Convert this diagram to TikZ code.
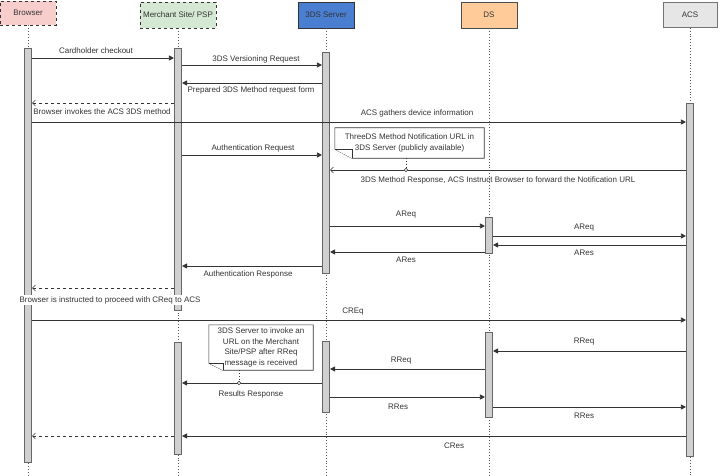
\documentclass[tikz,border=0pt]{standalone}
\usepackage{fontspec}
\setmainfont{Liberation Sans}
\usetikzlibrary{arrows.meta}
\definecolor{txt}{HTML}{333333}
\definecolor{ln}{HTML}{333333}
\definecolor{brw}{HTML}{F8CECC}
\definecolor{mer}{HTML}{D5E8D4}
\definecolor{tds}{HTML}{4A7ED0}
\definecolor{dsf}{HTML}{FFCC99}
\definecolor{acsf}{HTML}{E6E6E6}
\definecolor{actf}{HTML}{D0D0D0}
\begin{document}
\begin{tikzpicture}[x=1pt,y=-1pt,
  font=\fontsize{8}{10}\selectfont,
  hdr/.style={draw=ln, line width=0.6pt, inner sep=0pt, minimum height=25pt, text=txt},
  act/.style={draw=black!60, fill=actf, line width=0.6pt, minimum width=7.5pt, inner sep=0pt},
  life/.style={draw=black!65, line width=0.9pt, dotted},
  msg/.style={draw=ln, line width=0.6pt, -{Triangle[length=5pt,width=5pt]}},
  ret/.style={draw=ln, line width=0.6pt, dashed, -{Straight Barb[length=3pt,width=6pt]}},
  opn/.style={draw=ln, line width=0.6pt, -{Straight Barb[length=3pt,width=6pt]}},
  lbl/.style={text=txt, inner sep=0pt},
  notest/.style={draw=ln, line width=0.6pt, fill=white},
  link/.style={draw=ln, line width=0.8pt, dotted}]
\useasboundingbox (0,0) rectangle (720,476);

% headers
\node[hdr, dashed, fill=brw, minimum width=56pt, minimum height=24pt] (hB) at (28,13) {Browser};
\node[hdr, dashed, fill=mer, minimum width=76pt, minimum height=26pt] (hM) at (178,15) {Merchant Site/ PSP};
\node[hdr, fill=tds, minimum width=56pt, minimum height=26pt, line width=0.9pt] (hS) at (326,15) {3DS Server};
\node[hdr, fill=dsf, draw=black!70, minimum width=56pt, minimum height=26pt] (hD) at (489,15) {DS};
\node[hdr, fill=acsf, draw=black!55, minimum width=54pt, minimum height=25pt] (hA) at (690,15) {ACS};

% lifelines
\draw[life] (hB.south) -- (hB.south |- 0,476);
\draw[life] (hM.south) -- (hM.south |- 0,476);
\draw[life] (hS.south) -- (hS.south |- 0,476);
\draw[life] (hD.south) -- (hD.south |- 0,476);
\draw[life] (hA.south) -- (hA.south |- 0,476);

% activations
\node[act, minimum height=414pt] (aB) at (28,255) {};
\node[act, minimum height=262pt] (aM1) at (178,179) {};
\node[act, minimum height=112pt] (aM2) at (178,398) {};
\node[act, minimum height=221pt] (aS1) at (326,162.5) {};
\node[act, minimum height=71pt] (aS2) at (326,376.5) {};
\node[act, minimum height=36pt] (aD1) at (489,235) {};
\node[act, minimum height=85pt] (aD2) at (489,374.5) {};
\node[act, minimum height=353pt] (aA) at (690,279.5) {};

% messages
\draw[msg] (aB.east |- 0,58) -- (aM1.west |- 0,58);
\node[lbl] (l1) at (96,51) {Cardholder checkout};
\draw[msg] (aM1.east |- 0,65) -- (aS1.west |- 0,65);
\node[lbl] (l2) at (256,59) {3DS Versioning Request};
\draw[msg] (aS1.west |- 0,83) -- (aM1.east |- 0,83);
\node[lbl] (l3) at (251,90) {Prepared 3DS Method request form};
\draw[ret] (aM1.west |- 0,103) -- (aB.east |- 0,103);
\node[lbl] (l4) at (102,112) {Browser invokes the ACS 3DS method};
\draw[msg] (aB.east |- 0,122) -- (aA.west |- 0,122);
\node[lbl] (l5) at (417,113) {ACS gathers device information};
\draw[msg] (aM1.east |- 0,155) -- (aS1.west |- 0,155);
\node[lbl] (l6) at (253,148) {Authentication Request};
\draw[opn] (aA.west |- 0,170) -- (aS1.east |- 0,170);
\node[lbl] (l7) at (498,180) {3DS Method Response, ACS Instruct Browser to forward the Notification URL};
\draw[msg] (aS1.east |- 0,226) -- (aD1.west |- 0,226);
\node[lbl] (l8) at (406,215) {AReq};
\draw[msg] (aD1.east |- 0,236) -- (aA.west |- 0,236);
\node[lbl] (l9) at (584,228) {AReq};
\draw[msg] (aA.west |- 0,245) -- (aD1.east |- 0,245);
\node[lbl] (l10) at (584,253) {ARes};
\draw[msg] (aD1.west |- 0,252) -- (aS1.east |- 0,252);
\node[lbl] (l11) at (406,260) {ARes};
\draw[msg] (aS1.west |- 0,266) -- (aM1.east |- 0,266);
\node[lbl] (l12) at (248,274) {Authentication Response};
\draw[ret] (aM1.west |- 0,288) -- (aB.east |- 0,288);
\node[lbl, fill=white, inner sep=1pt] (l13) at (110,300) {Browser is instructed to proceed with CReq to ACS};
\draw[msg] (aB.east |- 0,320) -- (aA.west |- 0,320);
\node[lbl] (l14) at (353,312) {CREq};
\draw[msg] (aA.west |- 0,351) -- (aD2.east |- 0,351);
\node[lbl] (l15) at (584,342) {RReq};
\draw[msg] (aD2.west |- 0,369) -- (aS2.east |- 0,369);
\node[lbl] (l16) at (401,361) {RReq};
\coordinate (c2) at (239,383);
\draw[msg] (aS2.west |- 0,383) -- (aM2.east |- 0,383);
\node[lbl] (l17) at (251,394) {Results Response};
\draw[msg] (aS2.east |- 0,397) -- (aD2.west |- 0,397);
\node[lbl] (l18) at (398,407) {RRes};
\draw[msg] (aD2.east |- 0,407) -- (aA.west |- 0,407);
\node[lbl] (l19) at (584,416) {RRes};
\draw[msg] (aA.west |- 0,436) -- (aM2.east |- 0,436);
\node[lbl] (l20) at (454,446) {CRes};
\draw[ret] (aM2.west |- 0,436) -- (aB.east |- 0,436);

% note 1
\coordinate (c1) at (406,170);
\node[lbl, align=center, minimum width=149pt, minimum height=30pt] (n1) at (409.5,143) {};
\draw[notest] (n1.north west) -- (n1.north east) -- (n1.south east) -- ([xshift=17pt]n1.south west) -- ([yshift=9pt]n1.south west) -- cycle;
\draw[notest] ([yshift=9pt]n1.south west) -- ([xshift=17pt,yshift=9pt]n1.south west) -- ([xshift=17pt]n1.south west);
\node[lbl, align=center, font=\fontsize{8}{11}\selectfont] (n1t) at (n1) {ThreeDS Method Notification URL in\\3DS Server (publicly available)};
\draw[link] (n1.south -| c1) -- (c1);
\draw[ln, fill=white, line width=0.6pt] (c1) circle (1.8pt);

% note 2
\node[lbl, minimum width=104pt, minimum height=45pt] (n2) at (261,347.5) {};
\draw[notest] (n2.north west) -- (n2.north east) -- (n2.south east) -- ([xshift=14pt]n2.south west) -- ([yshift=7pt]n2.south west) -- cycle;
\draw[notest] ([yshift=7pt]n2.south west) -- ([xshift=14pt,yshift=7pt]n2.south west) -- ([xshift=14pt]n2.south west);
\node[lbl, align=center, font=\fontsize{8}{10.7}\selectfont] (n2t) at (n2) {3DS Server to invoke an\\URL on the Merchant\\Site/PSP after RReq\\message is received};
\draw[link] (n2.south -| c2) -- (c2);
\draw[ln, fill=white, line width=0.6pt] (c2) circle (1.8pt);
\end{tikzpicture}
\end{document}
